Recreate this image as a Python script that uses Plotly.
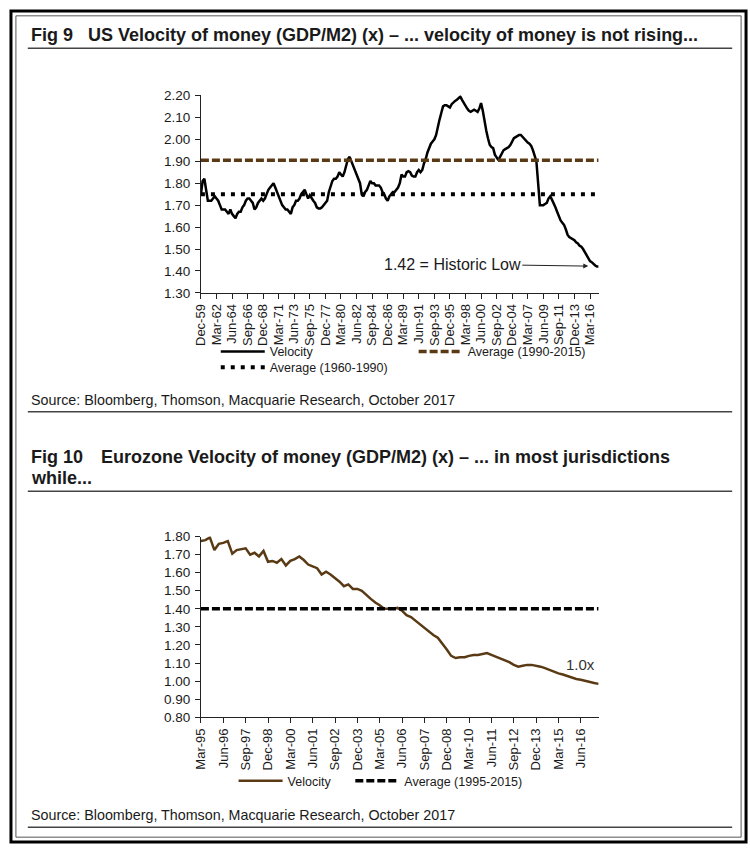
import pandas as pd
import plotly.graph_objects as go

# ---------------- data ----------------
us_velocity = [
    1.75, 1.81, 1.82, 1.77, 1.72, 1.72, 1.72, 1.73, 1.74, 1.73,
    1.72, 1.70, 1.68, 1.68, 1.68, 1.67, 1.66, 1.68, 1.66, 1.65,
    1.64, 1.66, 1.67, 1.67, 1.69, 1.70, 1.72, 1.73, 1.73, 1.72,
    1.71, 1.68, 1.69, 1.71, 1.72, 1.73, 1.72, 1.73, 1.75, 1.77,
    1.78, 1.79, 1.80, 1.78, 1.76, 1.74, 1.72, 1.70, 1.69, 1.68,
    1.68, 1.67, 1.66, 1.69, 1.70, 1.72, 1.72, 1.73, 1.75, 1.76,
    1.77, 1.75, 1.73, 1.745, 1.73, 1.72, 1.71, 1.69, 1.685, 1.685,
    1.69, 1.70, 1.71, 1.72, 1.76, 1.79, 1.81, 1.82, 1.82, 1.83,
    1.85, 1.84, 1.83, 1.85, 1.88, 1.91, 1.92, 1.90, 1.88, 1.86,
    1.84, 1.82, 1.80, 1.75, 1.74, 1.76, 1.77, 1.79, 1.81, 1.80,
    1.80, 1.79, 1.79, 1.79, 1.78, 1.76, 1.75, 1.73, 1.72, 1.74,
    1.75, 1.76, 1.76, 1.77, 1.78, 1.80, 1.84, 1.83, 1.83, 1.85,
    1.855, 1.85, 1.835, 1.83, 1.83, 1.85, 1.86, 1.85, 1.86, 1.89,
    1.91, 1.94, 1.96, 1.98, 1.99, 2.00, 2.02, 2.06, 2.09, 2.12,
    2.15, 2.155, 2.155, 2.15, 2.145, 2.16, 2.17, 2.175, 2.18, 2.19,
    2.195, 2.18, 2.165, 2.15, 2.14, 2.13, 2.125, 2.13, 2.135, 2.13,
    2.125, 2.14, 2.165, 2.13, 2.08, 2.04, 2.005, 1.975, 1.965, 1.96,
    1.93, 1.92, 1.905, 1.92, 1.935, 1.95, 1.955, 1.96, 1.965, 1.975,
    1.99, 2.005, 2.01, 2.015, 2.02, 2.02, 2.01, 2.00, 1.99, 1.985,
    1.98, 1.97, 1.95, 1.925, 1.90, 1.80, 1.70, 1.70, 1.70, 1.705,
    1.71, 1.73, 1.74, 1.725, 1.71, 1.69, 1.67, 1.65, 1.63, 1.62,
    1.61, 1.59, 1.565, 1.555, 1.55, 1.545, 1.54, 1.53, 1.525, 1.515,
    1.51, 1.50, 1.485, 1.47, 1.46, 1.445, 1.44, 1.43, 1.425, 1.42,
    1.42,
]
us_avg_1990_2015 = 1.905
us_avg_1960_1990 = 1.75

eu_velocity = [
    1.775, 1.78, 1.795, 1.725, 1.76, 1.765, 1.775, 1.705, 1.725, 1.73,
    1.735, 1.70, 1.71, 1.69, 1.72, 1.66, 1.665, 1.655, 1.675, 1.64,
    1.665, 1.675, 1.69, 1.67, 1.645, 1.635, 1.625, 1.59, 1.605, 1.59,
    1.57, 1.55, 1.525, 1.535, 1.51, 1.51, 1.50, 1.475, 1.455, 1.435,
    1.42, 1.40, 1.40, 1.40, 1.405, 1.39, 1.365, 1.355, 1.335, 1.315,
    1.29, 1.275, 1.255, 1.24, 1.21, 1.175, 1.14, 1.128, 1.132, 1.132,
    1.14, 1.145, 1.145, 1.15, 1.155, 1.145, 1.135, 1.125, 1.115, 1.105,
    1.09, 1.08, 1.085, 1.09, 1.09, 1.087, 1.08, 1.072, 1.062, 1.052,
    1.043, 1.037, 1.028, 1.018, 1.012, 1.008, 1.001, 0.995, 0.99, 0.985,
]
eu_avg_1995_2015 = 1.40

us_dates = pd.date_range("1959-12-31", periods=len(us_velocity), freq="QE")
eu_dates = pd.date_range("1995-03-31", periods=len(eu_velocity), freq="QE")
us_tick_dates = list(us_dates[::9])
us_tick_text = [d.strftime("%b-%y") for d in us_tick_dates]
eu_tick_dates = list(eu_dates[::5])
eu_tick_text = [d.strftime("%b-%y") for d in eu_tick_dates]

# ---------------- style ----------------
W, H = 750, 854
FONT = "Liberation Sans, Arial, sans-serif"
BROWN = "#5a3a14"
TXT = "#1a1a1a"


def px(x):
    return x / W


def py(y):
    return 1 - y / H


fig = go.Figure()

# Fig 9
fig.add_trace(go.Scatter(x=us_dates, y=us_velocity, mode="lines", name="Velocity",
                         line=dict(color="black", width=2.5), xaxis="x", yaxis="y",
                         legend="legend"))
fig.add_trace(go.Scatter(x=us_dates, y=[us_avg_1990_2015] * len(us_dates), mode="lines",
                         name="Average (1990-2015)",
                         line=dict(color=BROWN, width=3.5, dash="8px,3px"),
                         xaxis="x", yaxis="y", legend="legend2"))
fig.add_trace(go.Scatter(x=us_dates, y=[us_avg_1960_1990] * len(us_dates), mode="lines",
                         name="Average (1960-1990)",
                         line=dict(color="black", width=4, dash="4px,6px"),
                         xaxis="x", yaxis="y", legend="legend3"))

# Fig 10
fig.add_trace(go.Scatter(x=eu_dates, y=eu_velocity, mode="lines", name="Velocity",
                         line=dict(color=BROWN, width=2.5), xaxis="x2", yaxis="y2",
                         legend="legend4"))
fig.add_trace(go.Scatter(x=eu_dates, y=[eu_avg_1995_2015] * len(eu_dates), mode="lines",
                         name="Average (1995-2015)",
                         line=dict(color="black", width=3.5, dash="8px,3px"),
                         xaxis="x2", yaxis="y2", legend="legend5"))

axis_common = dict(showgrid=False, zeroline=False, showline=True, linecolor="#222",
                   linewidth=1, ticks="outside", ticklen=5, tickcolor="#222")
xfont = dict(family=FONT, size=13, color=TXT)
yfont = dict(family=FONT, size=13.5, color=TXT)


def leg(x, y):
    return dict(orientation="h", x=px(x), xanchor="left", y=py(y), yanchor="middle",
                itemwidth=44, font=dict(family=FONT, size=12.5, color=TXT),
                bgcolor="rgba(0,0,0,0)", itemclick=False, itemdoubleclick=False)


fig.update_layout(
    width=W, height=H,
    margin=dict(l=0, r=0, t=0, b=0),
    paper_bgcolor="white", plot_bgcolor="white",
    font=dict(family=FONT, color=TXT),
    xaxis=dict(axis_common, domain=[px(195), px(597)], anchor="y", type="date",
               range=[us_dates[0], us_dates[-1]], tickmode="array",
               tickvals=us_tick_dates, ticktext=us_tick_text, tickangle=-90,
               tickfont=xfont),
    yaxis=dict(axis_common, domain=[py(291), py(90)], anchor="x", range=[1.30, 2.20],
               dtick=0.1, tick0=1.3, tickformat=".2f", tickfont=yfont,
               ticklabelstandoff=2),
    xaxis2=dict(axis_common, domain=[px(195), px(597)], anchor="y2", type="date",
                range=[eu_dates[0], eu_dates[-1]], tickmode="array",
                tickvals=eu_tick_dates, ticktext=eu_tick_text, tickangle=-90,
                tickfont=xfont),
    yaxis2=dict(axis_common, domain=[py(723), py(539)], anchor="x2", range=[0.80, 1.80],
                dtick=0.1, tick0=0.8, tickformat=".2f", tickfont=yfont,
                ticklabelstandoff=2),
    legend=leg(210, 351),
    legend2=leg(410, 351),
    legend3=leg(210, 367),
    legend4=leg(228, 788),
    legend5=leg(346, 788),
    showlegend=True,
)

ann = []


def text(x, y, s, size, bold=False, anchor="left"):
    ann.append(dict(xref="paper", yref="paper", x=px(x), y=py(y), xanchor=anchor,
                    yanchor="middle", showarrow=False,
                    text=("<b>%s</b>" % s) if bold else s,
                    font=dict(family=FONT, size=size, color=TXT)))


text(21, 29, "Fig 9", 18, True)
text(79, 29, "US Velocity of money (GDP/M2) (x) \u2013 ... velocity of money is not rising...", 18, True)
text(21, 400, "Source: Bloomberg, Thomson, Macquarie Research, October 2017", 14.3)
text(21, 458, "Fig 10", 18, True)
text(92, 458, "Eurozone Velocity of money (GDP/M2) (x) \u2013 ... in most jurisdictions", 18, True)
text(21, 479, "while...", 18, True)
text(21, 822, "Source: Bloomberg, Thomson, Macquarie Research, October 2017", 14.3)

# data annotations
ann.append(dict(xref="x", yref="y", x=us_dates[224], y=1.422, ax=-136, ay=-2,
                text="1.42 = Historic Low", showarrow=True, arrowhead=2, arrowsize=1,
                arrowwidth=1, arrowcolor="#222",
                font=dict(family=FONT, size=16, color=TXT)))
ann.append(dict(xref="x2", yref="y2", x=eu_dates[85], y=1.09, text="1.0x", showarrow=False,
                font=dict(family=FONT, size=15, color="#333")))
fig.update_layout(annotations=ann)

# rules and frame
shapes = []
for y in (42, 412, 493, 835):
    shapes.append(dict(type="line", xref="paper", yref="paper", x0=px(20), x1=px(732),
                       y0=py(y), y1=py(y), line=dict(color="#444", width=1.5)))
shapes.append(dict(type="rect", xref="paper", yref="paper", x0=px(3), x1=px(746),
                   y0=py(850), y1=py(4), line=dict(color="black", width=3)))
shapes.append(dict(type="rect", xref="paper", yref="paper", x0=px(8), x1=px(741),
                   y0=py(845), y1=py(9), line=dict(color="#555", width=1)))
fig.update_layout(shapes=shapes)

fig.write_html("out.html",
               config={"displayModeBar": False},
               post_script="document.body.style.margin='0';"
                           "document.body.style.overflow='hidden';")
